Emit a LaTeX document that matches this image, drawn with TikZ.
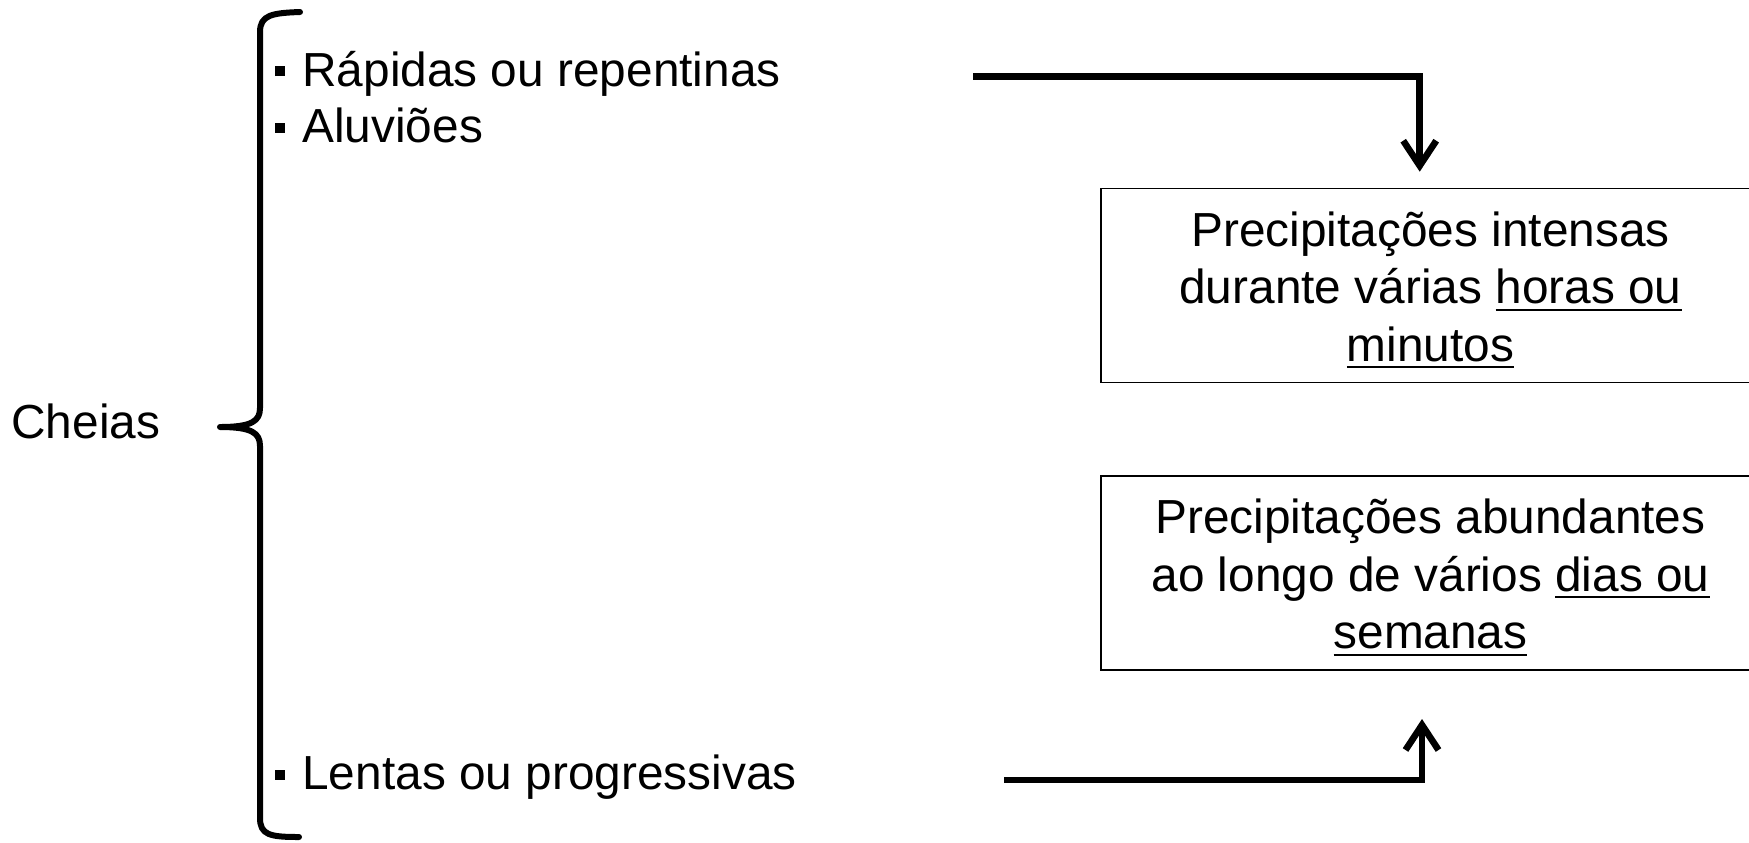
\documentclass[tikz,border=0pt]{standalone}
\usepackage{fontspec}
\setmainfont{Liberation Sans}
\usetikzlibrary{arrows.meta}
\newcommand\bul{\rule[5pt]{5pt}{5pt}\hspace{8.5pt}}
\newcommand\myul[1]{\setbox0\hbox{#1}\rlap{\raisebox{-3.6pt}{\rule{\wd0}{1.1pt}}}\box0}
\tikzset{
  lbl/.style={anchor=base west, inner sep=0pt, font=\fontsize{23.9pt}{29pt}\selectfont},
  pbox/.style={draw, line width=0.75pt, minimum width=329.5pt, minimum height=97pt, inner sep=0pt},
  ptext/.style={inner sep=0pt, align=center, font=\fontsize{23.9pt}{28.75pt}\selectfont},
  conn/.style={line width=3.3pt, -{Straight Barb[length=12.5pt,width=16.5pt,line width=3.3pt]}},
  brace/.style={line width=3pt, line cap=round, line join=round}
}
\begin{document}
\begin{tikzpicture}[x=0.5pt,y=-0.5pt]
\useasboundingbox (0,0) rectangle (1749,842);
\clip (0,0) rectangle (1749,842);
% left labels
\node[lbl] (cheias) at (11,438) {Cheias};
\node[lbl] (rap) at (275,86) {\bul Rápidas ou repentinas};
\node[lbl] (alu) at (275,142.5) {\bul Aluviões};
\node[lbl] (len) at (275,789.5) {\bul Lentas ou progressivas};
% brace
\draw[brace] (300,12) .. controls (272,13) and (260,15) .. (260,32) -- (260,408)
  .. controls (260,421) and (252,427) .. (220,427)
  .. controls (252,427) and (260,433) .. (260,446) -- (260,818)
  .. controls (260,835) and (270,837) .. (299,837);
% boxes
\node[pbox] (b1) at (1430.5,285.5) {};
\node[ptext] (b1t) at ([yshift=-2.25pt]b1.center) {Precipitações intensas\\durante várias \myul{horas ou}\\\myul{minutos}};
\node[pbox] (b2) at (1430.5,573) {};
\node[ptext] (b2t) at ([yshift=-2.25pt]b2.center) {Precipitações abundantes\\ao longo de vários \myul{dias ou}\\\myul{semanas}};
% connectors
\coordinate (a1s) at (973,76.3);
\coordinate (a1e) at (1419.7,171.7);
\coordinate (a2s) at (1004,780);
\coordinate (a2e) at (1422,719);
\draw[conn] (a1s) -| (a1e);
\draw[conn] (a2s) -| (a2e);
\end{tikzpicture}
\end{document}
